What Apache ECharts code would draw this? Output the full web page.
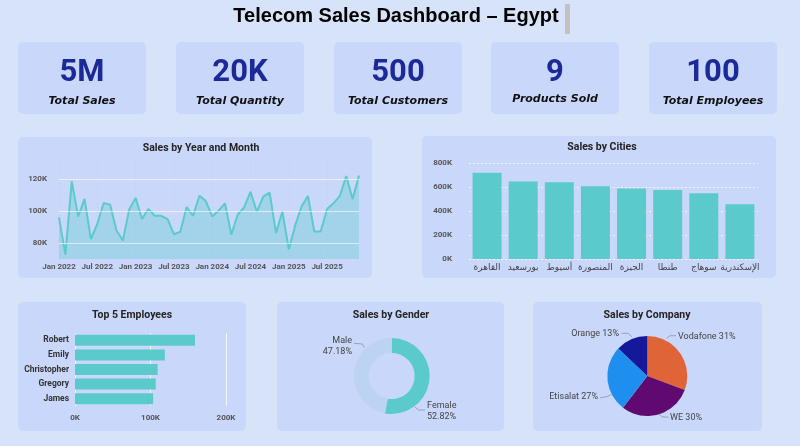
<!DOCTYPE html>
<html><head><meta charset="utf-8">
<script src="https://cdn.jsdelivr.net/npm/echarts@6/dist/echarts.min.js"></script>
<style>html,body{margin:0;padding:0;background:#D7E3F8;}#c{width:800px;height:446px;}</style>
</head><body><div id="c"></div>
<script>
// ---------- DATA ----------
const dashTitle = 'Telecom Sales Dashboard – Egypt';
const kpiValues = ['5M', '20K', '500', '9', '100'];
const kpiLabels = ['Total Sales', 'Total Quantity', 'Total Customers', 'Products Sold', 'Total Employees'];

const monthNames = ['Jan','Feb','Mar','Apr','May','Jun','Jul','Aug','Sep','Oct','Nov','Dec'];
const years = [2022, 2023, 2024, 2025];
const salesByMonth = [
  96000, 72700, 118500, 96500, 107600, 82500, 92000, 105000, 104000, 88000, 81500, 101000,
  108200, 95000, 101300, 97000, 97000, 95000, 85500, 87000, 102500, 97000, 109500, 106200,
  96600, 100200, 104800, 85200, 97800, 102200, 112000, 99500, 109000, 111500, 86200, 99800,
  76000, 91000, 102800, 109400, 87200, 87200, 101200, 104800, 109400, 121800, 107500, 122200
];
const lineTicks = [80000, 100000, 120000];

const cities = ['القاهرة', 'بورسعيد', 'أسيوط', 'المنصورة', 'الجيزة', 'طنطا', 'سوهاج', 'الإسكندرية'];
const citySales = [718000, 645000, 639000, 606000, 587000, 575000, 548000, 456000];

const employees = ['Robert', 'Emily', 'Christopher', 'Gregory', 'James'];
const employeeSales = [159000, 119000, 109500, 107000, 103500];

const genders = ['Female', 'Male'];
const genderShare = [52.82, 47.18];

const companies = ['Vodafone', 'WE', 'Etisalat', 'Orange'];
const companyShare = [31, 30, 27, 13];

// ---------- STYLE ----------
const months = [];
years.forEach(y => monthNames.forEach(m => months.push(m + ' ' + y)));
const TEAL = '#5BCACD';
const PANEL = '#C9D7FB';
const AX = { color: '#555', fontFamily: 'Roboto', fontWeight: 'bold', fontSize: 8 };
const kFmt = v => (v / 1000) + 'K';

const panels = [
  [18, 137, 354, 141], [422, 136, 354, 142],
  [18, 302, 228, 129], [277, 302, 227, 129], [533, 302, 229, 129]
];
const cardX = [18, 176, 334, 491, 649];
const graphics = [];
panels.forEach(p => graphics.push({ type: 'rect', z: 0, silent: true,
  shape: { x: p[0], y: p[1], width: p[2], height: p[3], r: 5 }, style: { fill: PANEL } }));
cardX.forEach((x, i) => {
  graphics.push({ type: 'rect', z: 0, silent: true, shape: { x: x, y: 42, width: 128, height: 72, r: 5 }, style: { fill: PANEL } });
  graphics.push({ type: 'text', z: 10, style: { text: kpiValues[i], x: x + 64, y: 73, align: 'center', verticalAlign: 'middle',
    fill: '#1C2A99', font: 'bold 31px Roboto' } });
  graphics.push({ type: 'text', z: 10, style: { text: kpiLabels[i], x: x + 64, y: i === 3 ? 99 : 101, align: 'center', verticalAlign: 'middle',
    fill: '#111', font: 'italic bold 11px "DejaVu Sans"' } });
});
graphics.push({ type: 'text', z: 10, style: { text: dashTitle, x: 396, y: 16, align: 'center', verticalAlign: 'middle',
  fill: '#000', font: 'bold 20px "Liberation Sans", Arial, sans-serif' } });
graphics.push({ type: 'rect', z: 10, shape: { x: 565, y: 4, width: 5, height: 30 }, style: { fill: '#C2C2C2' } });
const panelTitles = [
  ['Sales by Year and Month', 201, 148], ['Sales by Cities', 602, 147], ['Top 5 Employees', 132, 315],
  ['Sales by Gender', 391, 315], ['Sales by Company', 647, 315]
];
panelTitles.forEach(t => graphics.push({ type: 'text', z: 10, style: { text: t[0], x: t[1], y: t[2],
  align: 'center', verticalAlign: 'middle', fill: '#252423', font: 'bold 10.5px Roboto' } }));

const pieLabel = { fontSize: 9, color: '#444', fontFamily: 'Roboto', lineHeight: 11 };

const option = {
  backgroundColor: '#D7E3F8',
  animation: false,
  graphic: graphics,
  grid: [
    { left: 59, right: 441, top: 163, bottom: 187 },
    { left: 469, right: 42, top: 163, bottom: 187 },
    { left: 75, right: 574, top: 333, bottom: 40 }
  ],
  xAxis: [
    { gridIndex: 0, type: 'category', data: months, boundaryGap: false,
      axisLine: { show: false }, axisTick: { show: false },
      axisLabel: Object.assign({ interval: 5, margin: 4 }, AX),
      splitLine: { show: true, interval: 5, lineStyle: { color: '#BFCBEC', type: [1, 3] } } },
    { gridIndex: 1, type: 'category', data: cities,
      axisLine: { show: false }, axisTick: { show: false },
      axisLabel: { interval: 0, margin: 4, color: '#444', fontSize: 9, fontFamily: 'DejaVu Sans' } },
    { gridIndex: 2, type: 'value', min: 0, max: 200000, interval: 100000,
      axisLabel: Object.assign({ formatter: kFmt, margin: 8 }, AX),
      splitLine: { lineStyle: { color: 'rgba(255,255,255,0.75)' } } }
  ],
  yAxis: [
    { gridIndex: 0, type: 'value', min: 70000, max: 130000, interval: 10000,
      axisLabel: Object.assign({ margin: 12, formatter: v => lineTicks.indexOf(v) >= 0 ? kFmt(v) : '' }, AX),
      splitLine: { show: false } },
    { gridIndex: 1, type: 'value', min: 0, max: 800000, interval: 200000,
      axisLabel: Object.assign({ margin: 17, formatter: kFmt }, AX),
      splitLine: { lineStyle: { color: 'rgba(255,255,255,0.7)', type: [2, 2] } } },
    { gridIndex: 2, type: 'category', data: employees, inverse: true,
      axisLine: { show: false }, axisTick: { show: false },
      axisLabel: { margin: 6, color: '#333', fontFamily: 'Roboto', fontWeight: 'bold', fontSize: 8.5 } }
  ],
  series: [
    { type: 'line', xAxisIndex: 0, yAxisIndex: 0, data: salesByMonth, symbol: 'none',
      lineStyle: { color: TEAL, width: 2 }, areaStyle: { color: 'rgba(92,203,205,0.5)' },
      markLine: { silent: true, symbol: 'none', label: { show: false },
        lineStyle: { color: 'rgba(255,255,255,0.6)', type: 'solid', width: 1 },
        data: lineTicks.map(v => ({ yAxis: v })) } },
    { type: 'bar', xAxisIndex: 1, yAxisIndex: 1, data: citySales, barWidth: 29,
      itemStyle: { color: TEAL } },
    { type: 'bar', xAxisIndex: 2, yAxisIndex: 2, data: employeeSales, barWidth: 11,
      itemStyle: { color: TEAL } },
    { type: 'pie', center: [391.7, 376], radius: [23, 38], startAngle: 90, clockwise: true,
      data: genders.map((g, i) => ({ name: g, value: genderShare[i] })),
      color: [TEAL, '#BCD3F1'],
      label: Object.assign({ formatter: p => p.name + '\n' + p.value.toFixed(2) + '%' }, pieLabel),
      labelLine: { show: true, lineStyle: { color: '#9aa3b5', width: 1 } },
      labelLayout: p => p.dataIndex === 1
        ? { x: 352, y: 346, align: 'right', verticalAlign: 'middle', labelLinePoints: [[364.3, 347.5], [362.3, 344], [354, 343.3]] }
        : { x: 427, y: 411, align: 'left', verticalAlign: 'middle', labelLinePoints: [[415, 407], [418.3, 410], [425, 410]] } },
    { type: 'pie', center: [647.3, 376], radius: 40, startAngle: 90, clockwise: true,
      data: companies.map((c, i) => ({ name: c, value: companyShare[i] })),
      color: ['#DF6538', '#600A71', '#1F8FEF', '#16189A'],
      label: Object.assign({ formatter: p => p.name + ' ' + p.value + '%' }, pieLabel),
      labelLine: { show: true, lineStyle: { color: '#9aa3b5', width: 1 } },
      labelLayout: p => [
        { x: 678, y: 336.5, align: 'left', verticalAlign: 'middle', labelLinePoints: [[666.7, 338.3], [670, 335.7], [676, 335.7]] },
        { x: 670, y: 418, align: 'left', verticalAlign: 'middle', labelLinePoints: [[657.7, 412.3], [661.7, 416.7], [668.3, 417.3]] },
        { x: 598, y: 397, align: 'right', verticalAlign: 'middle', labelLinePoints: [[611.7, 394.3], [606.7, 396.7], [600, 397.7]] },
        { x: 619, y: 334, align: 'right', verticalAlign: 'middle', labelLinePoints: [[631.7, 336.7], [628.3, 333.3], [621.7, 333.3]] }
      ][p.dataIndex] }
  ]
};
const chart = echarts.init(document.getElementById('c'), null, { renderer: 'canvas' });
chart.setOption(option);
</script>
</body></html>
